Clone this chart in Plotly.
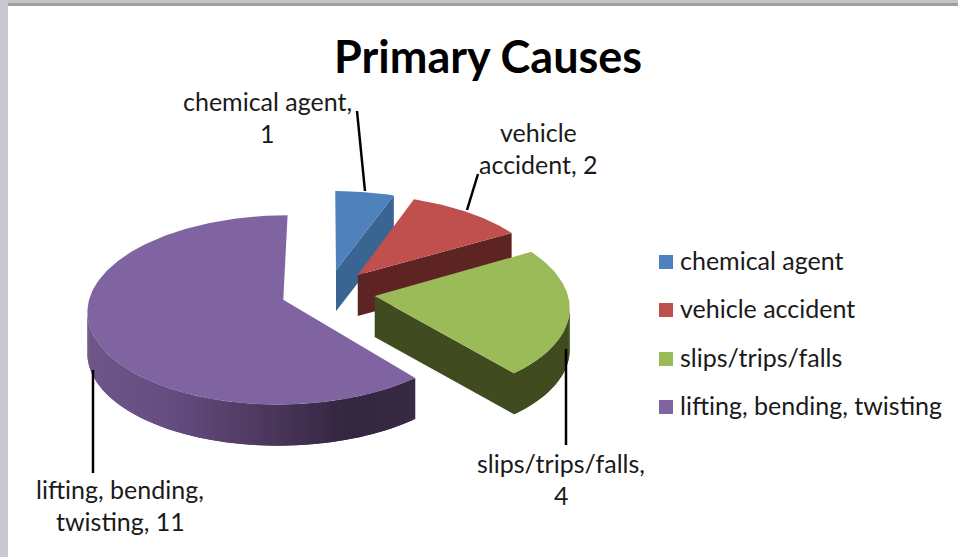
import math
import plotly.graph_objects as go

categories = ["chemical agent", "vehicle accident", "slips/trips/falls", "lifting, bending, twisting"]
values = [1, 2, 4, 11]
cap_colors = ["#4f81bd", "#c0504d", "#9bbb59", "#8064a2"]
wall_colors = ["#3a6491", "#5e2423", "#404b20", "#33263f"]
label_lines = [["chemical agent,", "1"], ["vehicle", "accident, 2"], ["slips/trips/falls,", "4"], ["lifting, bending,", "twisting, 11"]]
label_centers = [(267, 101), (538, 132), (561, 463), (120, 489)]
leaders = [((357, 111), (365, 191)), ((478, 174), (467, 210)), ((566, 349), (566, 445)), ((93, 370), (93, 473))]
legend_y = [262, 310, 359, 407]

CX, CY, A, B, K, EXPLODE, DEPTH = 328, 292, 192.5, 92, 0.106, 0.245, 41
FONT = "Lato"
TXT = "#1a1a1a"


def project(u, v):
    s = 1 + K * v
    return CX + A * u / s, CY - B * v / s


def lerp_hex(c1, c2, t):
    a = [int(c1[i:i + 2], 16) for i in (1, 3, 5)]
    b = [int(c2[i:i + 2], 16) for i in (1, 3, 5)]
    return "#" + "".join(f"{round(x + (y - x) * t):02x}" for x, y in zip(a, b))


def purple_wall(x):
    stops = [(85, "#705689"), (170, "#654c80"), (250, "#503b63"), (345, "#33263f"), (415, "#382a45")]
    for (x1, c1), (x2, c2) in zip(stops, stops[1:]):
        if x <= x2:
            return lerp_hex(c1, c2, max(0, (x - x1) / (x2 - x1)))
    return stops[-1][1]


fig = go.Figure()


def poly(xs, ys, color, name=None):
    fig.add_trace(go.Scatter(x=xs + xs[:1], y=ys + ys[:1], mode="lines", fill="toself", fillcolor=color,
                             line=dict(color=color, width=0), showlegend=False, hoverinfo="skip", name=name))


total = sum(values)
angle = 0.0
for i, val in enumerate(values):
    a1, a2 = angle, angle + 360 * val / total
    angle = a2
    mid = math.radians((a1 + a2) / 2)
    eu, ev = EXPLODE * math.sin(mid), EXPLODE * math.cos(mid)
    n = max(12, int((a2 - a1)))
    thetas = [math.radians(a1 + (a2 - a1) * j / n) for j in range(n + 1)]
    arc = [project(eu + math.sin(t), ev + math.cos(t)) for t in thetas]
    apex = project(eu, ev)

    # straight cut face (only the clockwise end of the three small slices faces the viewer)
    if i < 3:
        end = arc[-1]
        poly([apex[0], end[0], end[0], apex[0]],
             [apex[1], end[1], end[1] + DEPTH, apex[1] + DEPTH], wall_colors[i])
    # outer rim, only where it faces the viewer (x decreases along the clockwise arc)
    for j in range(len(arc) - 1):
        p, q = arc[j], arc[min(j + 2, len(arc) - 1)]
        if arc[j + 1][0] < arc[j][0]:
            c = purple_wall((p[0] + q[0]) / 2) if i == 3 else wall_colors[i]
            poly([p[0], q[0], q[0], p[0]], [p[1], q[1], q[1] + DEPTH, p[1] + DEPTH], c)
    # top
    poly([apex[0]] + [p[0] for p in arc], [apex[1]] + [p[1] for p in arc], cap_colors[i], categories[i])

for (p, q) in leaders:
    fig.add_trace(go.Scatter(x=[p[0], q[0]], y=[p[1], q[1]], mode="lines", line=dict(color="black", width=2.5),
                             showlegend=False, hoverinfo="skip"))

# legend
fig.add_trace(go.Scatter(x=[666] * 4, y=legend_y, mode="markers",
                         marker=dict(symbol="square", size=14, color=cap_colors), showlegend=False, hoverinfo="skip"))
fig.add_trace(go.Scatter(x=[680] * 4, y=[v + 2 for v in legend_y], mode="text", text=categories,
                         textposition="middle right", textfont=dict(family=FONT, size=25, color=TXT),
                         showlegend=False, hoverinfo="skip"))

annotations = [dict(x=488, y=56, text="<b>Primary Causes</b>", showarrow=False, xanchor="center", yanchor="middle",
                    font=dict(family=FONT, size=45, color="black"))]
for lines, (cx, cy) in zip(label_lines, label_centers):
    for j, line in enumerate(lines):
        annotations.append(dict(x=cx, y=cy + 32 * j, text=line, showarrow=False, xanchor="center", yanchor="middle",
                                font=dict(family=FONT, size=25, color=TXT)))

shapes = [
    dict(type="rect", x0=0, x1=958, y0=0, y1=3, fillcolor="#c4c4c8", line_width=0, layer="above"),
    dict(type="rect", x0=0, x1=958, y0=3, y1=6, fillcolor="#9f9fa2", line_width=0, layer="above"),
    dict(type="rect", x0=0, x1=8, y0=0, y1=557, fillcolor="#c8c8cf", line_width=0, layer="above"),
]

fig.update_layout(
    width=958, height=557, autosize=False, margin=dict(l=0, r=0, t=0, b=0),
    paper_bgcolor="white", plot_bgcolor="white", showlegend=False,
    xaxis=dict(range=[0, 958], visible=False, fixedrange=True),
    yaxis=dict(range=[557, 0], visible=False, fixedrange=True),
    annotations=annotations, shapes=shapes,
)
fig.write_html("out.html", config=dict(displayModeBar=False),
               post_script="document.body.style.margin='0';document.documentElement.style.overflow='hidden';")
